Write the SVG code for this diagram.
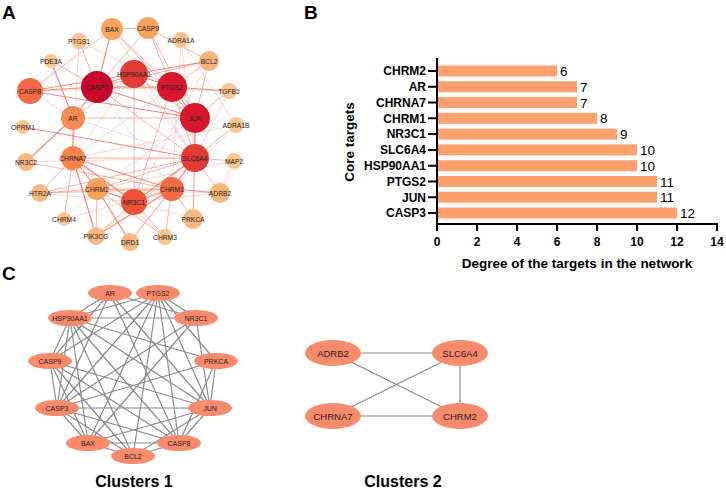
<svg xmlns="http://www.w3.org/2000/svg" width="726" height="490" viewBox="0 0 726 490">
<style>
.pl{font-family:"Liberation Sans",Arial,sans-serif;font-weight:bold;font-size:19px;fill:#000}
.nl{font-family:"Liberation Sans",Arial,sans-serif;font-size:6.7px;fill:#222;text-anchor:middle;dominant-baseline:central}
.e1{stroke:#F2705E;stroke-width:1.2;opacity:.8}
.e2{stroke:#F59A88;stroke-width:1;opacity:.75}
.e3{stroke:#F8C6BA;stroke-width:.9;opacity:.8}
.e4{stroke:#DCCFE6;stroke-width:.9;opacity:.8}
.yl{font-family:"Liberation Sans",Arial,sans-serif;font-weight:bold;font-size:12px;text-anchor:end}
.xl{font-family:"Liberation Sans",Arial,sans-serif;font-weight:bold;font-size:12px;text-anchor:middle}
.vl{font-family:"Liberation Sans",Arial,sans-serif;font-size:13.5px}
.at{font-family:"Liberation Sans",Arial,sans-serif;font-weight:bold;font-size:13.5px;text-anchor:middle}
.bar{fill:#FFA06E}
.ax{stroke:#000;stroke-width:2;fill:none}
.ce{stroke:#8a8a8a;stroke-width:1.2}
.cn{fill:#F98B6C}
.cl{font-family:"Liberation Sans",Arial,sans-serif;font-size:7px;fill:#2a1a1a;text-anchor:middle;dominant-baseline:central}
.cl2{font-family:"Liberation Sans",Arial,sans-serif;font-size:9.5px;fill:#2a1a1a;text-anchor:middle;dominant-baseline:central}
.ct{font-family:"Liberation Sans",Arial,sans-serif;font-weight:bold;font-size:16px;text-anchor:middle}
</style>
<rect width="726" height="490" fill="#fff"/>
<text class="pl" x="2" y="19">A</text>
<text class="pl" x="304" y="19">B</text>
<text class="pl" x="2" y="280">C</text>

<!-- Panel A connectors -->
<g id="connectorsA">
<line class="e4" x1="97" y1="87" x2="172" y2="189"/>
<line class="e4" x1="73" y1="118" x2="195" y2="158"/>
<line class="e4" x1="172" y1="87" x2="73" y2="158"/>
<line class="e4" x1="195" y1="118" x2="97" y2="189"/>
<line class="e4" x1="134" y1="74" x2="195" y2="158"/>
<line class="e4" x1="181" y1="40" x2="236" y2="125"/>
<line class="e3" x1="236" y1="125" x2="73" y2="158"/>
<line class="e3" x1="236" y1="125" x2="172" y2="189"/>
<line class="e3" x1="234" y1="161" x2="97" y2="189"/>
<line class="e3" x1="234" y1="161" x2="220" y2="193"/>
<line class="e3" x1="181" y1="40" x2="195" y2="158"/>
<line class="e3" x1="181" y1="40" x2="172" y2="189"/>
<line class="e3" x1="229" y1="91" x2="97" y2="87"/>
<line class="e3" x1="229" y1="91" x2="195" y2="158"/>
<line class="e3" x1="209" y1="61" x2="134" y2="202"/>
<line class="e3" x1="134" y1="74" x2="73" y2="158"/>
<line class="e3" x1="30" y1="91" x2="73" y2="118"/>
<line class="e3" x1="30" y1="91" x2="172" y2="87"/>
<line class="e3" x1="79" y1="41" x2="172" y2="87"/>
<line class="e3" x1="79" y1="41" x2="73" y2="158"/>
<line class="e3" x1="26" y1="162" x2="195" y2="158"/>
<line class="e3" x1="40" y1="193" x2="134" y2="202"/>
<line class="e3" x1="64" y1="219" x2="172" y2="189"/>
<line class="e3" x1="64" y1="219" x2="97" y2="189"/>
<line class="e3" x1="96" y1="236" x2="195" y2="158"/>
<line class="e3" x1="130" y1="242" x2="195" y2="158"/>
<line class="e3" x1="165" y1="237" x2="73" y2="158"/>
<line class="e3" x1="220" y1="193" x2="97" y2="189"/>
<line class="e3" x1="220" y1="193" x2="134" y2="202"/>
<line class="e3" x1="193" y1="219" x2="134" y2="202"/>
<line class="e3" x1="193" y1="219" x2="195" y2="118"/>
<line class="e3" x1="112" y1="29" x2="195" y2="158"/>
<line class="e2" x1="112" y1="29" x2="172" y2="87"/>
<line class="e2" x1="112" y1="29" x2="148" y2="28"/>
<line class="e2" x1="112" y1="29" x2="30" y2="91"/>
<line class="e2" x1="148" y1="28" x2="209" y2="61"/>
<line class="e2" x1="148" y1="28" x2="97" y2="87"/>
<line class="e2" x1="148" y1="28" x2="172" y2="87"/>
<line class="e2" x1="148" y1="28" x2="195" y2="118"/>
<line class="e2" x1="112" y1="29" x2="195" y2="118"/>
<line class="e2" x1="209" y1="61" x2="172" y2="87"/>
<line class="e2" x1="209" y1="61" x2="97" y2="87"/>
<line class="e2" x1="209" y1="61" x2="195" y2="118"/>
<line class="e2" x1="134" y1="74" x2="195" y2="118"/>
<line class="e2" x1="134" y1="74" x2="73" y2="118"/>
<line class="e2" x1="134" y1="74" x2="134" y2="202"/>
<line class="e2" x1="172" y1="87" x2="195" y2="158"/>
<line class="e2" x1="172" y1="87" x2="134" y2="202"/>
<line class="e2" x1="97" y1="87" x2="195" y2="158"/>
<line class="e2" x1="195" y1="118" x2="73" y2="118"/>
<line class="e2" x1="236" y1="125" x2="195" y2="158"/>
<line class="e2" x1="234" y1="161" x2="195" y2="158"/>
<line class="e2" x1="195" y1="158" x2="73" y2="158"/>
<line class="e2" x1="195" y1="158" x2="97" y2="189"/>
<line class="e2" x1="195" y1="158" x2="40" y2="193"/>
<line class="e2" x1="26" y1="162" x2="172" y2="189"/>
<line class="e2" x1="40" y1="193" x2="97" y2="189"/>
<line class="e2" x1="40" y1="193" x2="172" y2="189"/>
<line class="e2" x1="97" y1="189" x2="172" y2="189"/>
<line class="e2" x1="172" y1="189" x2="193" y2="219"/>
<line class="e2" x1="172" y1="189" x2="130" y2="242"/>
<line class="e2" x1="172" y1="189" x2="165" y2="237"/>
<line class="e2" x1="134" y1="202" x2="165" y2="237"/>
<line class="e2" x1="97" y1="189" x2="96" y2="236"/>
<line class="e2" x1="97" y1="189" x2="165" y2="237"/>
<line class="e2" x1="220" y1="193" x2="195" y2="158"/>
<line class="e2" x1="193" y1="219" x2="195" y2="158"/>
<line class="e2" x1="73" y1="158" x2="64" y2="219"/>
<line class="e2" x1="73" y1="158" x2="40" y2="193"/>
<line class="e2" x1="134" y1="202" x2="96" y2="236"/>
<line class="e2" x1="229" y1="91" x2="195" y2="118"/>
<line class="e2" x1="79" y1="41" x2="97" y2="87"/>
<line class="e2" x1="51" y1="61" x2="97" y2="87"/>
<line class="e1" x1="30" y1="91" x2="97" y2="87"/>
<line class="e1" x1="30" y1="91" x2="195" y2="118"/>
<line class="e1" x1="30" y1="91" x2="134" y2="74"/>
<line class="e1" x1="97" y1="87" x2="172" y2="87"/>
<line class="e1" x1="97" y1="87" x2="134" y2="74"/>
<line class="e1" x1="97" y1="87" x2="195" y2="118"/>
<line class="e1" x1="97" y1="87" x2="73" y2="118"/>
<line class="e1" x1="97" y1="87" x2="112" y2="29"/>
<line class="e1" x1="172" y1="87" x2="195" y2="118"/>
<line class="e1" x1="134" y1="74" x2="172" y2="87"/>
<line class="e1" x1="134" y1="74" x2="209" y2="61"/>
<line class="e1" x1="23" y1="127" x2="195" y2="158"/>
<line class="e1" x1="172" y1="87" x2="229" y2="91"/>
<line class="e1" x1="195" y1="118" x2="195" y2="158"/>
<line class="e1" x1="195" y1="158" x2="172" y2="189"/>
<line class="e1" x1="73" y1="158" x2="172" y2="189"/>
<line class="e1" x1="73" y1="158" x2="134" y2="202"/>
<line class="e1" x1="73" y1="158" x2="97" y2="189"/>
<line class="e1" x1="97" y1="189" x2="134" y2="202"/>
<line class="e1" x1="172" y1="189" x2="134" y2="202"/>
<line class="e1" x1="26" y1="162" x2="73" y2="118"/>
<line class="e1" x1="73" y1="158" x2="96" y2="236"/>
<line class="e1" x1="51" y1="61" x2="73" y2="118"/>
<line class="e1" x1="73" y1="118" x2="73" y2="158"/>
<line class="e1" x1="172" y1="189" x2="220" y2="193"/>
<line class="e1" x1="195" y1="158" x2="134" y2="202"/>
<line class="e1" x1="172" y1="189" x2="96" y2="236"/>
<line class="e1" x1="97" y1="189" x2="130" y2="242"/>
</g>

<!-- Panel A nodes -->
<g id="nodeBAX"><circle cx="112" cy="29" r="11" fill="#F9A35E"/><text class="nl" x="112" y="29">BAX</text></g>
<g id="nodeCASP9"><circle cx="148" cy="28" r="11" fill="#F9A35E"/><text class="nl" x="148" y="28">CASP9</text></g>
<g id="nodeADRA1A"><circle cx="181" cy="40" r="8" fill="#FCC490"/><text class="nl" x="181" y="40">ADRA1A</text></g>
<g id="nodePTGS1"><circle cx="79" cy="41" r="8" fill="#FCC490"/><text class="nl" x="79" y="41">PTGS1</text></g>
<g id="nodeBCL2"><circle cx="209" cy="61" r="10" fill="#FBB47A"/><text class="nl" x="209" y="61">BCL2</text></g>
<g id="nodePDE3A"><circle cx="51" cy="61" r="7" fill="#FCC490"/><text class="nl" x="51" y="61">PDE3A</text></g>
<g id="nodeHSP90AA1"><circle cx="134" cy="74" r="14" fill="#E23A35"/><text class="nl" x="134" y="74">HSP90AA1</text></g>
<g id="nodeCASP3"><circle cx="97" cy="87" r="16" fill="#C8082A"/><text class="nl" x="97" y="87">CASP3</text></g>
<g id="nodePTGS2"><circle cx="172" cy="87" r="15" fill="#D8162C"/><text class="nl" x="172" y="87">PTGS2</text></g>
<g id="nodeCASP8"><circle cx="30" cy="91" r="13" fill="#F36B45"/><text class="nl" x="30" y="91">CASP8</text></g>
<g id="nodeTGFB1"><circle cx="229" cy="91" r="8" fill="#FCC490"/><text class="nl" x="229" y="91">TGFB1</text></g>
<g id="nodeJUN"><circle cx="195" cy="118" r="15" fill="#D8162C"/><text class="nl" x="195" y="118">JUN</text></g>
<g id="nodeAR"><circle cx="73" cy="118" r="12" fill="#F78A50"/><text class="nl" x="73" y="118">AR</text></g>
<g id="nodeADRA1B"><circle cx="236" cy="125" r="8" fill="#FCC490"/><text class="nl" x="236" y="125">ADRA1B</text></g>
<g id="nodeOPRM1"><circle cx="23" cy="127" r="7" fill="#FCC490"/><text class="nl" x="23" y="127">OPRM1</text></g>
<g id="nodeSLC6A4"><circle cx="195" cy="158" r="14" fill="#E23A35"/><text class="nl" x="195" y="158">SLC6A4</text></g>
<g id="nodeCHRNA7"><circle cx="73" cy="158" r="12" fill="#F6844D"/><text class="nl" x="73" y="158">CHRNA7</text></g>
<g id="nodeNR3C2"><circle cx="26" cy="162" r="9" fill="#FBB880"/><text class="nl" x="26" y="162">NR3C2</text></g>
<g id="nodeMAP2"><circle cx="234" cy="161" r="8" fill="#FCC490"/><text class="nl" x="234" y="161">MAP2</text></g>
<g id="nodeCHRM2"><circle cx="97" cy="189" r="11" fill="#F9A05A"/><text class="nl" x="97" y="189">CHRM2</text></g>
<g id="nodeCHRM1"><circle cx="172" cy="189" r="12" fill="#F36B45"/><text class="nl" x="172" y="189">CHRM1</text></g>
<g id="nodeADRB2"><circle cx="220" cy="193" r="10" fill="#FBB47A"/><text class="nl" x="220" y="193">ADRB2</text></g>
<g id="nodeHTR2A"><circle cx="40" cy="193" r="9" fill="#FBB880"/><text class="nl" x="40" y="193">HTR2A</text></g>
<g id="nodeNR3C1"><circle cx="134" cy="202" r="13" fill="#EE503A"/><text class="nl" x="134" y="202">NR3C1</text></g>
<g id="nodeCHRM4"><circle cx="64" cy="219" r="7" fill="#FCC490"/><text class="nl" x="64" y="219">CHRM4</text></g>
<g id="nodePRKCA"><circle cx="193" cy="219" r="10" fill="#FBB880"/><text class="nl" x="193" y="219">PRKCA</text></g>
<g id="nodePIK3CG"><circle cx="96" cy="236" r="9" fill="#FBB880"/><text class="nl" x="96" y="236">PIK3CG</text></g>
<g id="nodeCHRM3"><circle cx="165" cy="237" r="8" fill="#FCC490"/><text class="nl" x="165" y="237">CHRM3</text></g>
<g id="nodeDRD1"><circle cx="130" cy="242" r="9" fill="#FBB880"/><text class="nl" x="130" y="242">DRD1</text></g>

<!-- Panel B chart -->
<g id="chartB">
<rect class="bar" x="437" y="65.5" width="120" height="11"/>
<rect class="bar" x="437" y="81.3" width="140" height="11"/>
<rect class="bar" x="437" y="97.1" width="140" height="11"/>
<rect class="bar" x="437" y="112.8" width="160" height="11"/>
<rect class="bar" x="437" y="128.6" width="180" height="11"/>
<rect class="bar" x="437" y="144.4" width="200" height="11"/>
<rect class="bar" x="437" y="160.2" width="200" height="11"/>
<rect class="bar" x="437" y="176" width="220" height="11"/>
<rect class="bar" x="437" y="191.7" width="220" height="11"/>
<rect class="bar" x="437" y="207.5" width="240" height="11"/>
<text class="vl" x="560" y="76">6</text>
<text class="vl" x="580" y="91.8">7</text>
<text class="vl" x="580" y="107.6">7</text>
<text class="vl" x="600" y="123.3">8</text>
<text class="vl" x="620" y="139.1">9</text>
<text class="vl" x="640" y="154.9">10</text>
<text class="vl" x="640" y="170.7">10</text>
<text class="vl" x="660" y="186.5">11</text>
<text class="vl" x="660" y="202.2">11</text>
<text class="vl" x="680" y="218">12</text>
<path class="ax" d="M437 58 V225 M436 224 H718"/>
<path class="ax" d="M428 71 H437 M428 86.8 H437 M428 102.6 H437 M428 118.3 H437 M428 134.1 H437 M428 149.9 H437 M428 165.7 H437 M428 181.5 H437 M428 197.2 H437 M428 213 H437"/>
<path class="ax" d="M437 224 V231 M477 224 V231 M517 224 V231 M557 224 V231 M597 224 V231 M637 224 V231 M677 224 V231 M717 224 V231"/>
<text class="yl" x="426" y="75.3">CHRM2</text>
<text class="yl" x="426" y="91.1">AR</text>
<text class="yl" x="426" y="106.9">CHRNA7</text>
<text class="yl" x="426" y="122.6">CHRM1</text>
<text class="yl" x="426" y="138.4">NR3C1</text>
<text class="yl" x="426" y="154.2">SLC6A4</text>
<text class="yl" x="426" y="170">HSP90AA1</text>
<text class="yl" x="426" y="185.8">PTGS2</text>
<text class="yl" x="426" y="201.5">JUN</text>
<text class="yl" x="426" y="217.3">CASP3</text>
<text class="xl" x="437" y="246">0</text>
<text class="xl" x="477" y="246">2</text>
<text class="xl" x="517" y="246">4</text>
<text class="xl" x="557" y="246">6</text>
<text class="xl" x="597" y="246">8</text>
<text class="xl" x="637" y="246">10</text>
<text class="xl" x="677" y="246">12</text>
<text class="xl" x="717" y="246">14</text>
<text class="at" x="577" y="268">Degree of the targets in the network</text>
<text class="at" transform="translate(354,142) rotate(-90)">Core targets</text>
</g>

<!-- Panel C connectors -->
<g id="connectorsC">
<line class="ce" x1="110" y1="293" x2="70" y2="318"/>
<line class="ce" x1="110" y1="293" x2="57" y2="408"/>
<line class="ce" x1="110" y1="293" x2="210" y2="408"/>
<line class="ce" x1="110" y1="293" x2="179" y2="443"/>
<line class="ce" x1="110" y1="293" x2="196" y2="318"/>
<line class="ce" x1="110" y1="293" x2="50" y2="361"/>
<line class="ce" x1="158" y1="293" x2="70" y2="318"/>
<line class="ce" x1="158" y1="293" x2="196" y2="318"/>
<line class="ce" x1="158" y1="293" x2="50" y2="361"/>
<line class="ce" x1="158" y1="293" x2="57" y2="408"/>
<line class="ce" x1="158" y1="293" x2="88" y2="443"/>
<line class="ce" x1="158" y1="293" x2="133" y2="456"/>
<line class="ce" x1="158" y1="293" x2="179" y2="443"/>
<line class="ce" x1="158" y1="293" x2="210" y2="408"/>
<line class="ce" x1="158" y1="293" x2="216" y2="361"/>
<line class="ce" x1="70" y1="318" x2="196" y2="318"/>
<line class="ce" x1="70" y1="318" x2="50" y2="361"/>
<line class="ce" x1="70" y1="318" x2="57" y2="408"/>
<line class="ce" x1="70" y1="318" x2="210" y2="408"/>
<line class="ce" x1="70" y1="318" x2="216" y2="361"/>
<line class="ce" x1="70" y1="318" x2="179" y2="443"/>
<line class="ce" x1="70" y1="318" x2="133" y2="456"/>
<line class="ce" x1="70" y1="318" x2="88" y2="443"/>
<line class="ce" x1="196" y1="318" x2="57" y2="408"/>
<line class="ce" x1="196" y1="318" x2="210" y2="408"/>
<line class="ce" x1="196" y1="318" x2="88" y2="443"/>
<line class="ce" x1="50" y1="361" x2="57" y2="408"/>
<line class="ce" x1="50" y1="361" x2="210" y2="408"/>
<line class="ce" x1="50" y1="361" x2="179" y2="443"/>
<line class="ce" x1="50" y1="361" x2="133" y2="456"/>
<line class="ce" x1="50" y1="361" x2="88" y2="443"/>
<line class="ce" x1="216" y1="361" x2="57" y2="408"/>
<line class="ce" x1="216" y1="361" x2="210" y2="408"/>
<line class="ce" x1="216" y1="361" x2="179" y2="443"/>
<line class="ce" x1="57" y1="408" x2="210" y2="408"/>
<line class="ce" x1="57" y1="408" x2="88" y2="443"/>
<line class="ce" x1="57" y1="408" x2="133" y2="456"/>
<line class="ce" x1="57" y1="408" x2="179" y2="443"/>
<line class="ce" x1="210" y1="408" x2="88" y2="443"/>
<line class="ce" x1="210" y1="408" x2="133" y2="456"/>
<line class="ce" x1="210" y1="408" x2="179" y2="443"/>
<line class="ce" x1="88" y1="443" x2="179" y2="443"/>
<line class="ce" x1="88" y1="443" x2="133" y2="456"/>
<line class="ce" x1="133" y1="456" x2="179" y2="443"/>
<line class="ce" x1="333" y1="353" x2="460" y2="353"/>
<line class="ce" x1="333" y1="416" x2="460" y2="416"/>
<line class="ce" x1="333" y1="353" x2="460" y2="416"/>
<line class="ce" x1="333" y1="416" x2="460" y2="353"/>
<line class="ce" x1="460" y1="353" x2="460" y2="416"/>
</g>

<!-- Panel C nodes -->
<g id="c1AR"><ellipse class="cn" cx="110" cy="293" rx="22" ry="8"/><text class="cl" x="110" y="293">AR</text></g>
<g id="c1PTGS2"><ellipse class="cn" cx="158" cy="293" rx="22" ry="8"/><text class="cl" x="158" y="293">PTGS2</text></g>
<g id="c1HSP90AA1"><ellipse class="cn" cx="70" cy="318" rx="22" ry="8"/><text class="cl" x="70" y="318">HSP90AA1</text></g>
<g id="c1NR3C1"><ellipse class="cn" cx="196" cy="318" rx="22" ry="8"/><text class="cl" x="196" y="318">NR3C1</text></g>
<g id="c1CASP9"><ellipse class="cn" cx="50" cy="361" rx="22" ry="8"/><text class="cl" x="50" y="361">CASP9</text></g>
<g id="c1PRKCA"><ellipse class="cn" cx="216" cy="361" rx="22" ry="8"/><text class="cl" x="216" y="361">PRKCA</text></g>
<g id="c1CASP3"><ellipse class="cn" cx="57" cy="408" rx="22" ry="8"/><text class="cl" x="57" y="408">CASP3</text></g>
<g id="c1JUN"><ellipse class="cn" cx="210" cy="408" rx="22" ry="8"/><text class="cl" x="210" y="408">JUN</text></g>
<g id="c1BAX"><ellipse class="cn" cx="88" cy="443" rx="22" ry="8"/><text class="cl" x="88" y="443">BAX</text></g>
<g id="c1CASP8"><ellipse class="cn" cx="179" cy="443" rx="22" ry="8"/><text class="cl" x="179" y="443">CASP8</text></g>
<g id="c1BCL2"><ellipse class="cn" cx="133" cy="456" rx="22" ry="8"/><text class="cl" x="133" y="456">BCL2</text></g>
<g id="c2ADRB2"><ellipse class="cn" cx="333" cy="353" rx="28" ry="13"/><text class="cl2" x="333" y="353">ADRB2</text></g>
<g id="c2SLC6A4"><ellipse class="cn" cx="460" cy="353" rx="28" ry="13"/><text class="cl2" x="460" y="353">SLC6A4</text></g>
<g id="c2CHRNA7"><ellipse class="cn" cx="333" cy="416" rx="28" ry="13"/><text class="cl2" x="333" y="416">CHRNA7</text></g>
<g id="c2CHRM2"><ellipse class="cn" cx="460" cy="416" rx="28" ry="13"/><text class="cl2" x="460" y="416">CHRM2</text></g>
<text class="ct" x="134" y="487">Clusters 1</text>
<text class="ct" x="403" y="487">Clusters 2</text>
</svg>
